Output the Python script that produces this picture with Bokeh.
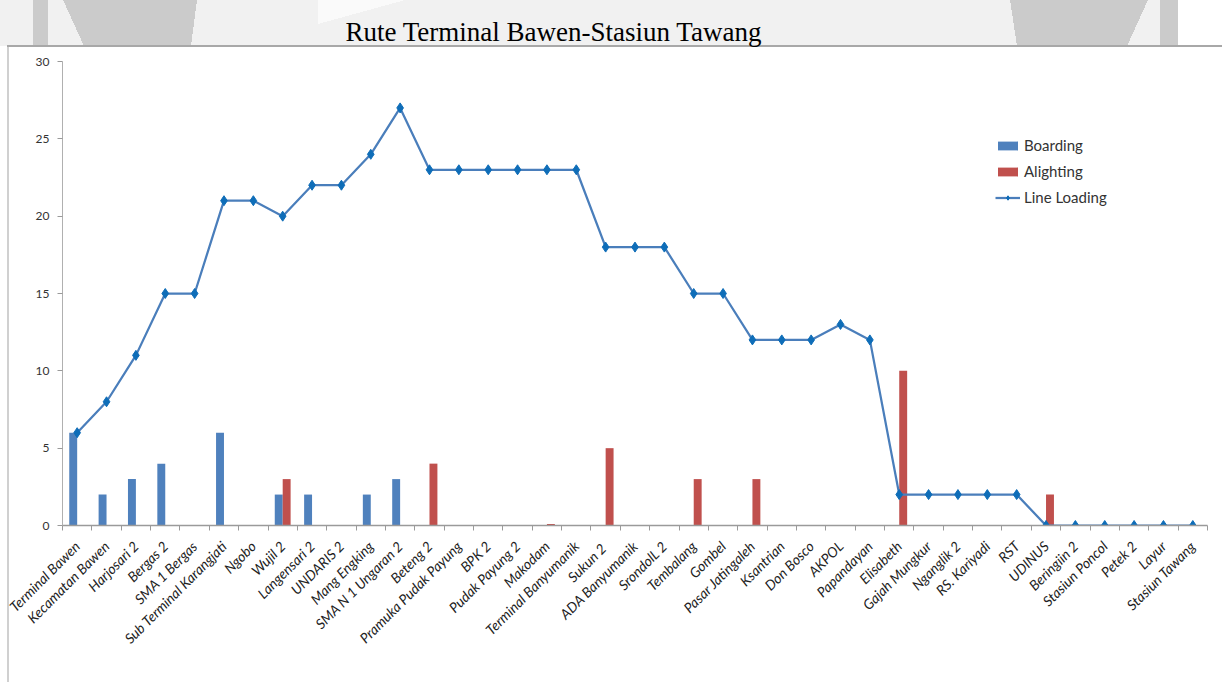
import math
from bokeh.plotting import figure
from bokeh.models import Range1d, FixedTicker, Legend, LegendItem, ColumnDataSource
from bokeh.embed import file_html
from bokeh.resources import INLINE

# ---------------- data ----------------
stops = [
    "Terminal Bawen", "Kecamatan Bawen", "Harjosari 2", "Bergas 2", "SMA 1 Bergas",
    "Sub Terminal Karangjati", "Ngobo", "Wujil 2", "Langensari 2", "UNDARIS 2",
    "Mang Engking", "SMA N 1 Ungaran 2", "Beteng 2", "Pramuka Pudak Payung", "BPK 2",
    "Pudak Payung 2", "Makodam", "Terminal Banyumanik", "Sukun  2", "ADA Banyumanik",
    "SrondolL 2", "Tembalang", "Gombel", "Pasar Jatingaleh", "Ksantrian",
    "Don Bosco", "AKPOL", "Papandayan", "Elisabeth", "Gajah Mungkur",
    "Nganglik 2", "RS. Kariyadi", "RST", "UDINUS", "Beringiin 2",
    "Stasiun Poncol", "Petek 2", "Layur", "Stasiun Tawang",
]
boarding = [6, 2, 3, 4, 0, 6, 0, 2, 2, 0, 2, 3, 0, 0, 0, 0, 0, 0, 0, 0,
            0, 0, 0, 0, 0, 0, 0, 0, 0, 0, 0, 0, 0, 0, 0, 0, 0, 0, 0]
alighting = [0, 0, 0, 0, 0, 0, 0, 3, 0, 0, 0, 0, 4, 0, 0, 0, 0.1, 0, 5, 0,
             0, 3, 0, 3, 0, 0, 0, 0, 10, 0, 0, 0, 0, 2, 0, 0, 0, 0, 0]
line_loading = [6, 8, 11, 15, 15, 21, 21, 20, 22, 22, 24, 27, 23, 23, 23, 23, 23, 23, 18, 18,
                18, 15, 15, 12, 12, 12, 13, 12, 2, 2, 2, 2, 2, 0, 0, 0, 0, 0, 0]
y_ticks = [0, 5, 10, 15, 20, 25, 30]
title_text = "Rute Terminal Bawen-Stasiun Tawang"
series_names = ["Boarding", "Alighting", "Line Loading"]

n = len(stops)
xc = [i + 0.5 for i in range(n)]
bar_w = 0.27
src = ColumnDataSource(dict(
    x=xc,
    xb=[x - bar_w / 2 for x in xc],
    xa=[x + bar_w / 2 for x in xc],
    b=boarding, a=alighting, l=line_loading,
))

# ---------------- page decoration (header band watermark + chart box), CSS ----------------
def solid(c):
    return f"linear-gradient({c}, {c})"

def tri(direction, c="#cbcbcb"):
    return f"linear-gradient({direction}, {c} 50%, transparent 50%)"

layers = [
    (solid("#a8a8a8"), "7px 45px", "1216px 2px"),
    (solid("#d0d0d0"), "7px 46px", "2px 640px"),
    (solid("#cbcbcb"), "33px 0px", "15px 46px"),
    (solid("#cbcbcb"), "84px 0px", "107px 46px"),
    (tri("to bottom left"), "63px 0px", "21px 46px"),
    (tri("to bottom right"), "191px 0px", "6px 46px"),
    (solid("#cbcbcb"), "1017px 0px", "110px 46px"),
    (tri("to bottom left"), "1010px 0px", "7px 46px"),
    (tri("to bottom right"), "1127px 0px", "21px 46px"),
    (solid("#cbcbcb"), "1160px 0px", "18px 46px"),
    (tri("to bottom right", "#fafafa"), "318px 0px", "87px 24px"),
    (solid("#f1f1f1"), "0px 0px", "1178px 46px"),
]

# ---------------- figure ----------------
p = figure(width=1222, height=682, x_range=Range1d(0, n), y_range=Range1d(0, 30),
           min_border_left=62, min_border_right=15, min_border_top=60, min_border_bottom=157,
           toolbar_location=None, output_backend="svg")
p.styles = {
    "background-color": "white",
    "background-image": ", ".join(l[0] for l in layers),
    "background-position": ", ".join(l[1] for l in layers),
    "background-size": ", ".join(l[2] for l in layers),
    "background-repeat": "no-repeat",
}
p.grid.visible = False
p.outline_line_color = None
p.background_fill_color = "white"
p.border_fill_alpha = 0

p.title.text = title_text
p.title.text_font = "Liberation Serif"
p.title.text_font_size = "27px"
p.title.text_font_style = "normal"
p.title.text_color = "black"
p.title.align = "left"
p.title.offset = 283
p.title.standoff = 29

rb = p.vbar(x="xb", top="b", width=bar_w, source=src, fill_color="#4F81BD", line_color=None)
ra = p.vbar(x="xa", top="a", width=bar_w, source=src, fill_color="#C0504D", line_color=None)
rl = p.line("x", "l", source=src, line_color="#4A7EBB", line_width=2.25)
rs = p.scatter("x", "l", source=src, marker="diamond", size=10,
               fill_color="#0E6DB8", line_color="#0E6DB8")

xa = p.xaxis[0]
xa.ticker = FixedTicker(ticks=xc, minor_ticks=list(range(n + 1)))
xa.major_label_overrides = {x: s for x, s in zip(xc, stops)}
xa.major_tick_in = 0
xa.major_tick_out = 0
xa.minor_tick_in = 0
xa.minor_tick_out = 5
xa.minor_tick_line_color = "#9a9a9a"
xa.axis_line_color = "#9a9a9a"
xa.axis_line_width = 1.5
xa.major_label_orientation = math.pi / 4
xa.major_label_text_font = "Lato"
xa.major_label_text_font_style = "italic"
xa.major_label_text_font_size = "14px"
xa.major_label_text_color = "#222222"
xa.major_label_standoff = 13

ya = p.yaxis[0]
ya.ticker = FixedTicker(ticks=y_ticks)
ya.major_tick_in = 0
ya.major_tick_out = 5
ya.minor_tick_line_color = None
ya.major_tick_line_color = "#9a9a9a"
ya.axis_line_color = "#b0b0b0"
ya.major_label_text_font = "Lato"
ya.major_label_text_font_size = "12px"
ya.major_label_text_color = "#333333"
ya.major_label_standoff = 8

legend = Legend(items=[
    LegendItem(label=series_names[0], renderers=[rb]),
    LegendItem(label=series_names[1], renderers=[ra]),
    LegendItem(label=series_names[2], renderers=[rl, rs]),
], location=(933, 318))
legend.border_line_color = None
legend.background_fill_alpha = 0
legend.glyph_width = 25
legend.glyph_height = 11
legend.label_height = 20
legend.spacing = 6
legend.padding = 0
legend.margin = 0
legend.label_standoff = 4
legend.label_text_font = "Lato"
legend.label_text_font_size = "15px"
legend.label_text_color = "#333333"
p.add_layout(legend)

open("out.html", "w").write(file_html(p, INLINE))
